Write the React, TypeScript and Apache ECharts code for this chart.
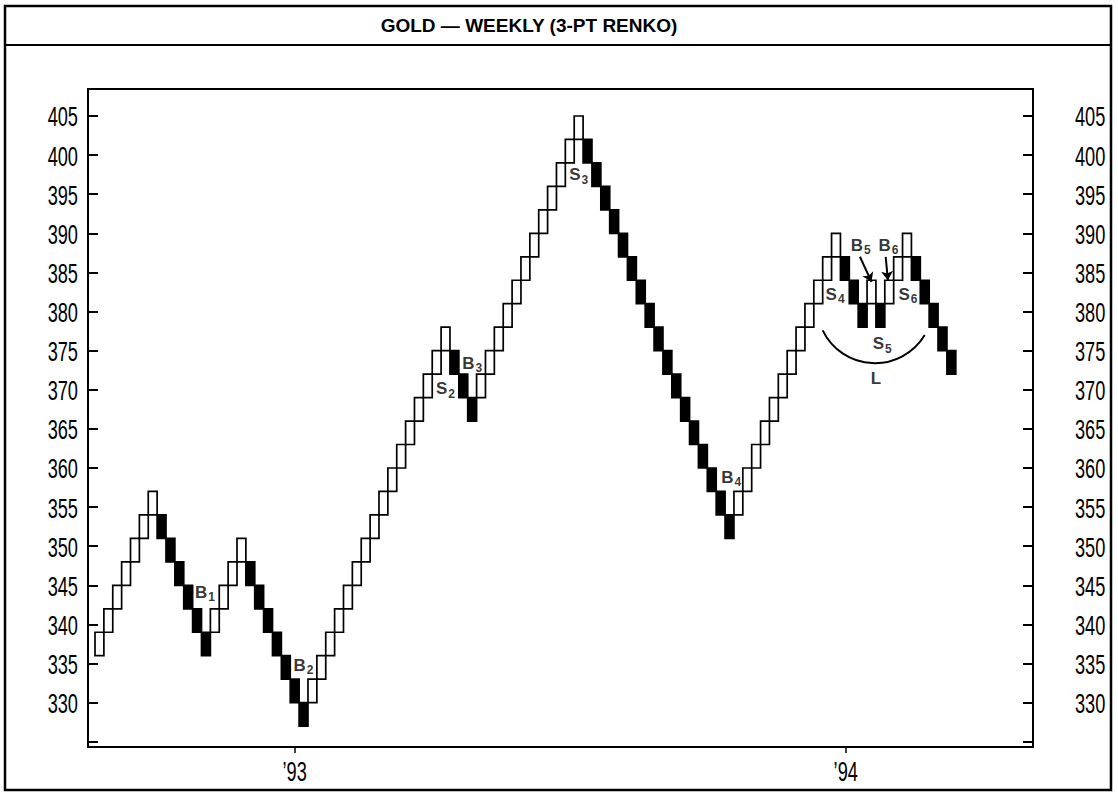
import React, { useEffect, useRef } from "react";
import * as echarts from "echarts";

// ---- data ----
const BRICK_SIZE = 3;
// bottom value of every 3-pt brick, in order
const brickLows = [
  336, 339, 342, 345, 348, 351, 354,
  351, 348, 345, 342, 339, 336,
  339, 342, 345, 348,
  345, 342, 339, 336, 333, 330, 327,
  330, 333, 336, 339, 342, 345, 348, 351, 354, 357, 360, 363, 366, 369, 372, 375,
  372, 369, 366,
  369, 372, 375, 378, 381, 384, 387, 390, 393, 396, 399, 402,
  399, 396, 393, 390, 387, 384, 381, 378, 375, 372, 369, 366, 363, 360, 357, 354, 351,
  354, 357, 360, 363, 366, 369, 372, 375, 378, 381, 384, 387,
  384, 381, 378,
  381,
  378,
  381, 384, 387,
  384, 381, 378, 375, 372,
];
// U = rising (hollow) brick, D = falling (black) brick
const brickDirs = (
  "UUUUUUU" + "DDDDDD" + "UUUU" + "DDDDDDD" + "UUUUUUUUUUUUUUUU" + "DDD" +
  "UUUUUUUUUUUU" + "DDDDDDDDDDDDDDDDD" + "UUUUUUUUUUUU" + "DDD" + "U" + "D" + "UUU" + "DDDDD"
).split("");

const yTickValues = [325, 330, 335, 340, 345, 350, 355, 360, 365, 370, 375, 380, 385, 390, 395, 400, 405];
const yLabelValues = [330, 335, 340, 345, 350, 355, 360, 365, 370, 375, 380, 385, 390, 395, 400, 405];
const xTickPositions = [22.5, 84.6];
const xTickLabels = ["\u201993", "\u201994"];

const annotationTexts = ["B", "B", "S", "B", "S", "B", "S", "B", "B", "S", "S", "L"];
const annotationSubs = ["1", "2", "2", "3", "3", "4", "4", "5", "6", "6", "5", ""];
const annotationX = [12.4, 23.5, 39.5, 42.5, 54.5, 71.7, 83.4, 86.3, 89.4, 91.6, 88.7, 88.0];
const annotationY = [344.1, 334.8, 370.1, 373.4, 397.5, 358.8, 382.2, 388.5, 388.5, 382.2, 375.9, 371.5];

const arrowFrom = [[86.2, 387.0], [89.1, 387.0]];
const arrowTo = [[87.5, 383.8], [89.35, 384.0]];

const arcAnchors = [[82.0, 377.6], [87.9, 373.4], [93.5, 377.0]];

const TITLE = "GOLD \u2014 WEEKLY (3-PT RENKO)";

const SANS = "'Liberation Sans', Arial, Helvetica, sans-serif";
const AXIS_FONT = `28px ${SANS}`;
const AXIS_SCALE_X = 0.65;

export default function App() {
  const ref = useRef<HTMLDivElement>(null);

  useEffect(() => {
    if (!ref.current) return;
    const chart = echarts.init(ref.current, null, { renderer: "svg" });

    const brickData = brickLows.map((v, i) => [i, v, brickDirs[i] === "U" ? 1 : 0]);
    const annData = annotationX.map((x, i) => ({
      value: [x, annotationY[i]],
      label: {
        formatter: annotationSubs[i] ? `{m|${annotationTexts[i]}}{s|${annotationSubs[i]}}` : `{m|${annotationTexts[i]}}`,
      },
    }));

    const yAxisCommon = {
      type: "value",
      min: 324.33,
      max: 408.45,
      splitLine: { show: false },
      axisLine: { show: true, onZero: false, lineStyle: { color: "#000", width: 2 } },
      axisTick: {
        show: true,
        inside: true,
        length: 10,
        customValues: yTickValues,
        lineStyle: { color: "#000", width: 2 },
      },
      axisLabel: { show: false },
    };

    chart.setOption({
      animation: false,
      backgroundColor: "#fff",
      grid: {
        left: 88,
        top: 89,
        right: 85,
        bottom: 46,
        show: true,
        borderColor: "#000",
        borderWidth: 2,
        backgroundColor: "transparent",
      },
      xAxis: {
        type: "value",
        min: -0.79,
        max: 105.7,
        splitLine: { show: false },
        axisLine: { show: true, onZero: false, lineStyle: { color: "#000", width: 2 } },
        axisTick: {
          show: true,
          length: 6,
          customValues: xTickPositions,
          lineStyle: { color: "#000", width: 1.5 },
        },
        axisLabel: { show: false },
      },
      yAxis: [
        { ...yAxisCommon, position: "left" },
        { ...yAxisCommon, position: "right" },
      ],
      series: [
        {
          type: "custom",
          name: "Renko",
          xAxisIndex: 0,
          yAxisIndex: 0,
          data: brickData,
          encode: { x: 0, y: 1 },
          clip: false,
          renderItem: (params: any, api: any) => {
            const i = api.value(0);
            const low = api.value(1);
            const up = api.value(2) === 1;
            const p0 = api.coord([i, low + BRICK_SIZE]);
            const p1 = api.coord([i + 1, low]);
            return {
              type: "rect",
              shape: { x: p0[0], y: p0[1], width: p1[0] - p0[0], height: p1[1] - p0[1] },
              style: { fill: up ? "#fff" : "#000", stroke: "#000", lineWidth: 1.7 },
            };
          },
        },
        {
          type: "scatter",
          name: "Annotations",
          xAxisIndex: 0,
          yAxisIndex: 0,
          symbolSize: 0,
          data: annData,
          label: {
            show: true,
            position: "inside",
            color: "#000",
            rich: {
              m: { fontFamily: SANS, fontWeight: "bold", fontSize: 17, color: "#000" },
              s: { fontFamily: SANS, fontWeight: "bold", fontSize: 12, color: "#000", padding: [10, 0, 0, 1] },
            },
          },
          markLine: {
            silent: true,
            symbol: ["none", "arrow"],
            symbolSize: 9,
            label: { show: false },
            lineStyle: { color: "#000", width: 2, type: "solid" },
            data: arrowFrom.map((f, i) => [{ coord: f }, { coord: arrowTo[i] }]),
          },
        },
      ],
    });

    const toPx = (p: number[]) => chart.convertToPixel({ seriesIndex: 0 }, p) as number[];

    // arc "L" through three anchor points
    const [a, b, c] = arcAnchors.map(toPx);
    const d = 2 * (a[0] * (b[1] - c[1]) + b[0] * (c[1] - a[1]) + c[0] * (a[1] - b[1]));
    const sq = (p: number[]) => p[0] * p[0] + p[1] * p[1];
    const cx = (sq(a) * (b[1] - c[1]) + sq(b) * (c[1] - a[1]) + sq(c) * (a[1] - b[1])) / d;
    const cy = (sq(a) * (c[0] - b[0]) + sq(b) * (a[0] - c[0]) + sq(c) * (b[0] - a[0])) / d;
    const r = Math.hypot(a[0] - cx, a[1] - cy);
    const startAngle = Math.atan2(c[1] - cy, c[0] - cx);
    const endAngle = Math.atan2(a[1] - cy, a[0] - cx);

    // condensed axis labels (narrow type face as in the original)
    const leftX = chart.convertToPixel({ xAxisIndex: 0 }, -0.79) as number;
    const rightX = chart.convertToPixel({ xAxisIndex: 0 }, 105.7) as number;
    const bottomY = chart.convertToPixel({ yAxisIndex: 0 }, 324.33) as number;
    const yLabels = yLabelValues.flatMap((v) => {
      const py = chart.convertToPixel({ yAxisIndex: 0 }, v) as number;
      return [
        {
          type: "text",
          x: leftX - 10,
          y: py + 1,
          scaleX: AXIS_SCALE_X,
          silent: true,
          style: { text: String(v), font: AXIS_FONT, fill: "#000", align: "right", verticalAlign: "middle" },
        },
        {
          type: "text",
          x: rightX + 42,
          y: py + 1,
          scaleX: AXIS_SCALE_X,
          silent: true,
          style: { text: String(v), font: AXIS_FONT, fill: "#000", align: "left", verticalAlign: "middle" },
        },
      ];
    });
    const xLabels = xTickPositions.map((v, i) => ({
      type: "text",
      x: chart.convertToPixel({ xAxisIndex: 0 }, v) as number,
      y: bottomY + 25,
      scaleX: AXIS_SCALE_X,
      silent: true,
      style: { text: xTickLabels[i], font: AXIS_FONT, fill: "#000", align: "center", verticalAlign: "middle" },
    }));

    chart.setOption({
      graphic: [
        {
          type: "rect",
          shape: { x: 5, y: 6, width: 1106, height: 784 },
          style: { fill: "none", stroke: "#000", lineWidth: 2.5 },
          silent: true,
        },
        {
          type: "line",
          shape: { x1: 5, y1: 45, x2: 1111, y2: 45 },
          style: { stroke: "#000", lineWidth: 2 },
          silent: true,
        },
        {
          type: "text",
          x: 529,
          y: 25,
          silent: true,
          style: {
            text: TITLE,
            fill: "#000",
            font: `bold 19px ${SANS}`,
            align: "center",
            verticalAlign: "middle",
          },
        },
        {
          type: "arc",
          shape: { cx, cy, r, startAngle, endAngle, clockwise: true },
          style: { stroke: "#000", lineWidth: 2, fill: "none" },
          silent: true,
        },
        ...yLabels,
        ...xLabels,
      ],
    });

    return () => chart.dispose();
  }, []);

  return (
    <div
      ref={ref}
      style={{ position: "fixed", left: 0, top: 0, width: "1118px", height: "793px", background: "#fff" }}
    />
  );
}
